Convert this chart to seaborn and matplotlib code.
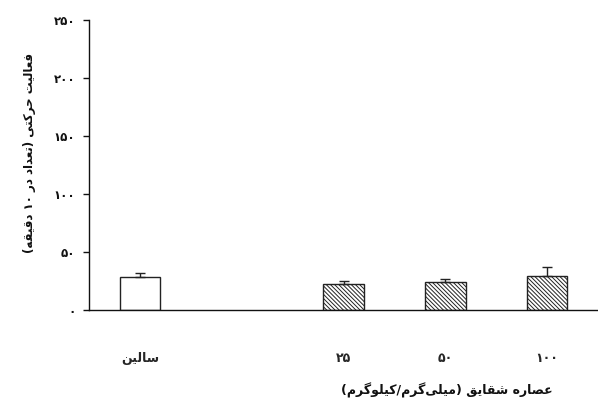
import matplotlib
matplotlib.use("Agg")
import matplotlib.pyplot as plt
import seaborn as sns
import pandas as pd

# ---- data -------------------------------------------------------------
groups = ["سالین", "۲۵", "۵۰", "۱۰۰"]
activity_mean = [28.5, 22.5, 24.5, 29.5]
activity_sem = [3.2, 2.3, 2.4, 7.2]
is_extract = [False, True, True, True]

y_ticks = [0, 50, 100, 150, 200, 250]
y_tick_labels = ["۰", "۵۰", "۱۰۰", "۱۵۰", "۲۰۰", "۲۵۰"]
y_title = "فعالیت حرکتی (تعداد در ۱۰ دقیقه)"
x_title = "عصاره شقایق (میلی\u200cگرم/کیلوگرم)"

# ---- minimal Persian shaping (presentation forms + visual order) -------
# (isolated, final, initial, medial); right-joining letters have no initial/medial
FORMS = {
    "\u0627": ("\uFE8D", "\uFE8E", None, None),
    "\u062A": ("\uFE95", "\uFE96", "\uFE97", "\uFE98"),
    "\u062D": ("\uFEA1", "\uFEA2", "\uFEA3", "\uFEA4"),
    "\u062F": ("\uFEA9", "\uFEAA", None, None),
    "\u0631": ("\uFEAD", "\uFEAE", None, None),
    "\u0633": ("\uFEB1", "\uFEB2", "\uFEB3", "\uFEB4"),
    "\u0634": ("\uFEB5", "\uFEB6", "\uFEB7", "\uFEB8"),
    "\u0635": ("\uFEB9", "\uFEBA", "\uFEBB", "\uFEBC"),
    "\u0639": ("\uFEC9", "\uFECA", "\uFECB", "\uFECC"),
    "\u0641": ("\uFED1", "\uFED2", "\uFED3", "\uFED4"),
    "\u0642": ("\uFED5", "\uFED6", "\uFED7", "\uFED8"),
    "\u0644": ("\uFEDD", "\uFEDE", "\uFEDF", "\uFEE0"),
    "\u0645": ("\uFEE1", "\uFEE2", "\uFEE3", "\uFEE4"),
    "\u0646": ("\uFEE5", "\uFEE6", "\uFEE7", "\uFEE8"),
    "\u0647": ("\uFEE9", "\uFEEA", "\uFEEB", "\uFEEC"),
    "\u0648": ("\uFEED", "\uFEEE", None, None),
    "\u06A9": ("\uFB8E", "\uFB8F", "\uFB90", "\uFB91"),
    "\u06AF": ("\uFB92", "\uFB93", "\uFB94", "\uFB95"),
    "\u06CC": ("\uFBFC", "\uFBFD", "\uFBFE", "\uFBFF"),
}
DIGITS = set("۰۱۲۳۴۵۶۷۸۹0123456789")


def shape(text):
    chars = list(text)
    out = []
    for i, c in enumerate(chars):
        if c not in FORMS:
            out.append(c)
            continue
        prev = chars[i - 1] if i > 0 else None
        nxt = chars[i + 1] if i + 1 < len(chars) else None
        join_prev = prev in FORMS and FORMS[prev][2] is not None
        join_next = FORMS[c][2] is not None and nxt in FORMS
        iso, fin, ini, med = FORMS[c]
        if join_prev and join_next:
            out.append(med)
        elif join_prev:
            out.append(fin)
        elif join_next:
            out.append(ini)
        else:
            out.append(iso)
    out = [c for c in out if c != "\u200c"]
    # visual order: reverse, keeping digit runs left-to-right
    runs, buf = [], ""
    for c in out:
        if c in DIGITS:
            buf += c
        else:
            if buf:
                runs.append(buf)
                buf = ""
            runs.append(c)
    if buf:
        runs.append(buf)
    vis = "".join(reversed(runs))
    return vis.translate(str.maketrans("()", ")("))


# ---- figure -----------------------------------------------------------
sns.set_theme(style="ticks")
plt.rcParams["font.family"] = ["DejaVu Sans"]
plt.rcParams["font.weight"] = "bold"
plt.rcParams["hatch.color"] = "#333333"
plt.rcParams["hatch.linewidth"] = 0.7

fig = plt.figure(figsize=(5.98, 4.09), dpi=100)
ax = fig.add_axes([0.149, 0.242, 0.851, 0.709])

labels = [shape(g) for g in groups]
df = pd.DataFrame({"group": labels, "activity": activity_mean})
order = [labels[0], " ", *labels[1:]]

sns.barplot(data=df, x="group", y="activity", order=order, errorbar=None,
            width=0.4, color="white", edgecolor="#222222", linewidth=1.0,
            saturation=1, ax=ax)

# hatch the extract bars, then add upper SEM whiskers at the bar centres
bars = sorted([p for p in ax.patches if p.get_width() > 0], key=lambda p: p.get_x())
centres = []
for bar, hatched in zip(bars, is_extract):
    centres.append(bar.get_x() + bar.get_width() / 2)
    if hatched:
        bar.set_hatch("\\" * 8)

ax.errorbar(centres, activity_mean, yerr=[[0] * len(activity_sem), activity_sem],
            fmt="none", ecolor="#222222", elinewidth=1.0, capsize=3.9,
            capthick=1.0, zorder=1)

ax.set_xlim(-0.5, 4.5)
ax.set_ylim(0, 250)
ax.set_yticks(y_ticks)
ax.set_yticklabels(y_tick_labels, fontsize=8.5, fontweight="bold")
ax.tick_params(axis="y", length=4, width=1, direction="out", pad=6, colors="#111111")
ax.tick_params(axis="x", length=0, pad=30, labelsize=9)
for t in ax.get_xticklabels():
    t.set_fontweight("bold")

ax.set_xlabel("")
ax.set_ylabel(shape(y_title), fontsize=8.5, fontweight="bold", color="#111111")
ax.yaxis.set_label_coords(-0.105, 0.54)
fig.text(0.748, 0.045, shape(x_title), ha="center", va="center",
         fontsize=9, fontweight="bold", color="#111111")

sns.despine(ax=ax, top=True, right=True)
for s in ("left", "bottom"):
    ax.spines[s].set_color("#111111")
    ax.spines[s].set_linewidth(1.0)

fig.savefig("out.png", dpi=100, facecolor="white")
